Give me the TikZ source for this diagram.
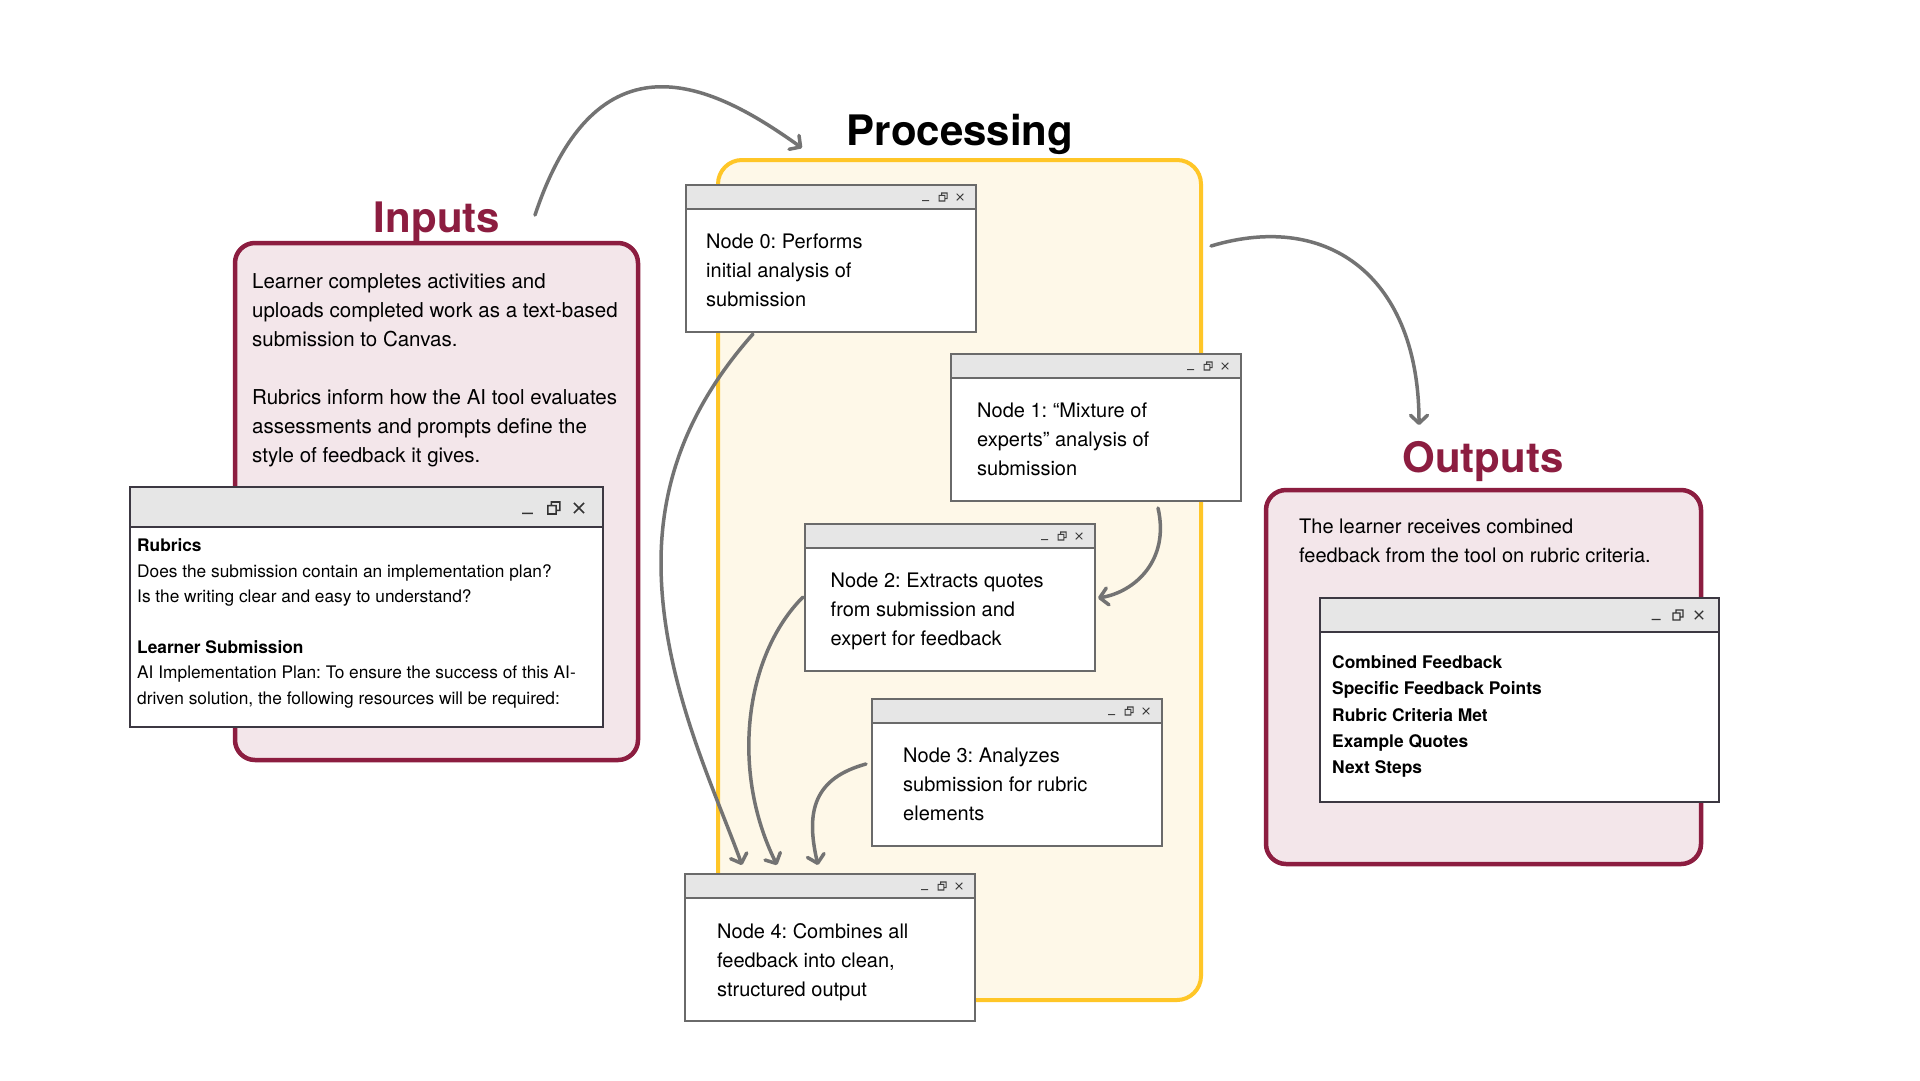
\documentclass[tikz,border=0pt]{standalone}
\usepackage{fontspec}
\setmainfont{TeX Gyre Heros}
\frenchspacing
\usetikzlibrary{arrows.meta,calc}
\definecolor{maroon}{HTML}{8C1D40}
\definecolor{gold}{HTML}{FFC627}
\definecolor{pinkfill}{HTML}{F3E6EA}
\definecolor{creamfill}{HTML}{FEF8E8}
\definecolor{barfill}{HTML}{E6E6E6}
\definecolor{arrowgray}{HTML}{737373}
\definecolor{wline}{HTML}{6A6A6A}
\definecolor{wdark}{HTML}{3C3842}
\tikzset{
  groupbox/.style={draw=maroon, line width=4.5pt, fill=pinkfill, rounded corners=20pt, outer sep=0pt, inner sep=0pt, anchor=north west},
  procbox/.style={draw=gold, line width=4pt, fill=creamfill, rounded corners=24pt, outer sep=0pt, inner sep=0pt, anchor=north west},
  titletext/.style={font=\fontsize{42}{50}\selectfont\bfseries, inner sep=0pt, anchor=base},
  bodytext/.style={font=\fontsize{20.5}{29}\selectfont, align=left, inner sep=0pt, anchor=north west},
  nodetext/.style={font=\fontsize{20}{29}\selectfont, align=left, inner sep=0pt, anchor=north west},
  smalltext/.style={font=\fontsize{17.3}{25.4}\selectfont, align=left, inner sep=0pt, anchor=north west},
  listtext/.style={font=\fontsize{17.4}{26.2}\selectfont\bfseries, align=left, inner sep=0pt, anchor=north west},
  winbox/.style={fill=white, line width=1.6pt, outer sep=0pt, inner sep=0pt, anchor=north west},
  conn/.style={draw=arrowgray, line width=3.5pt, line cap=round, -{Straight Barb[length=8pt,width=17pt,round]}},
}
% window control icons: right edge x, centre y, size
\newcommand\wicons[4]{%
  \draw[draw=#4, line width={#3*0.13pt}]
    ({#1-2*#3-0.42*#3},{#2-0.42*#3}) -- ({#1-2*#3+0.42*#3},{#2+0.42*#3})
    ({#1-2*#3-0.42*#3},{#2+0.42*#3}) -- ({#1-2*#3+0.42*#3},{#2-0.42*#3})
    ({#1-4.1*#3-0.5*#3},{#2-0.2*#3}) rectangle ({#1-4.1*#3+0.2*#3},{#2+0.5*#3})
    ({#1-4.1*#3-0.2*#3},{#2-0.2*#3}) -- ({#1-4.1*#3-0.2*#3},{#2-0.5*#3}) -- ({#1-4.1*#3+0.5*#3},{#2-0.5*#3}) -- ({#1-4.1*#3+0.5*#3},{#2+0.2*#3}) -- ({#1-4.1*#3+0.2*#3},{#2+0.2*#3})
    ({#1-6.3*#3-0.45*#3},{#2+0.45*#3}) -- ({#1-6.3*#3+0.45*#3},{#2+0.45*#3});
}
% processing node window: name, x, y, text x offset, text
\newcommand\nodewin[5]{%
  \node[winbox, draw=wline, minimum width=290pt, minimum height=147pt] (#1) at (#2,#3) {};
  \draw[draw=wline, line width=1.6pt, fill=barfill] (#1.north west) rectangle ($(#1.north east)+(0,24)$);
  \wicons{#2+290}{#3+12}{8}{black!75}
  \node[nodetext] (#1t) at ($(#1.north west)+(#4,49)$) {#5};
}
\begin{document}
\begin{tikzpicture}[x=1pt,y=-1pt]
\useasboundingbox (0,0) rectangle (1920,1080);
\fill[white] (0,0) rectangle (1920,1080);

% ---------------- Inputs ----------------
\node[groupbox, minimum width=403pt, minimum height=517pt] (inbox) at (235,243) {};
\node[titletext, text=maroon] (intitle) at (437,232) {Inputs};
\node[bodytext] (intext) at (252,273) {Learner completes activities and\\uploads completed work as a text-based\\submission to Canvas.\\ \mbox{}\\Rubrics inform how the AI tool evaluates\\assessments and prompts define the\\style of feedback it gives.};

\node[winbox, draw=wdark, minimum width=473pt, minimum height=240pt] (inwin) at (130,487) {};
\draw[draw=wdark, line width=1.6pt, fill=barfill] (inwin.north west) rectangle ($(inwin.north east)+(0,40)$);
\wicons{603}{508}{12}{black!80}
\node[smalltext] (inwintext) at (137,538.5) {{\bfseries Rubrics}\\Does the submission contain an implementation plan?\\Is the writing clear and easy to understand?\\ \mbox{}\\{\bfseries Learner Submission}\\AI Implementation Plan: To ensure the success of this AI-\\driven solution, the following resources will be required:};

% ---------------- Processing ----------------
\node[procbox, minimum width=483pt, minimum height=840pt] (procbox) at (718,160) {};
\node[titletext, text=black] (proctitle) at (960,145) {Processing};

\nodewin{n0}{686}{185}{20}{Node 0: Performs\\initial analysis of\\submission}
\nodewin{n1}{951}{354}{26}{Node 1: “Mixture of\\experts” analysis of\\submission}
\nodewin{n2}{805}{524}{25.5}{Node 2: Extracts quotes\\from submission and\\expert for feedback}
\nodewin{n3}{872}{699}{31}{Node 3: Analyzes\\submission for rubric\\elements}
\nodewin{n4}{685}{874}{32}{Node 4: Combines all\\feedback into clean,\\structured output}

% ---------------- Outputs ----------------
\node[groupbox, minimum width=435pt, minimum height=374pt] (outbox) at (1266,490) {};
\node[titletext, text=maroon] (outtitle) at (1483,472) {Outputs};
\node[nodetext] (outtext) at (1299,518.5) {The learner receives combined\\feedback from the tool on rubric criteria.};

\node[winbox, draw=wdark, minimum width=399pt, minimum height=204pt] (outwin) at (1320,598) {};
\draw[draw=wdark, line width=1.6pt, fill=barfill] (outwin.north west) rectangle ($(outwin.north east)+(0,34)$);
\wicons{1719}{615}{10}{black!80}
\node[listtext] (outlist) at (1332,655.5) {Combined Feedback\\Specific Feedback Points\\Rubric Criteria Met\\Example Quotes\\Next Steps};

% ---------------- Connectors ----------------
\coordinate (a1s) at (535,215);
\coordinate (a1e) at (802,148);
\coordinate (a2s) at (1211,246);
\coordinate (a2e) at (1419,425);
\coordinate (a3s) at (1158,508);
\coordinate (a3e) at (1098,598);
\coordinate (a4s) at (753,334);
\coordinate (a4m) at (661,563);
\coordinate (a4e) at (742,865);
\coordinate (a5s) at (803,597);
\coordinate (a5e) at (777,865);
\coordinate (a6s) at (866,764);
\coordinate (a6e) at (818,865);

\draw[conn] (a1s) .. controls (600,20) and (722,91) .. (a1e);
\draw[conn] (a2s) .. controls (1331,210) and (1419,280) .. (a2e);
\draw[conn] (a3s) .. controls (1170,560) and (1135,592) .. (a3e);
\draw[conn] (a4s) .. controls (690,405) and (661,480) .. (a4m) .. controls (661,680) and (715,790) .. (a4e);
\draw[conn] (a5s) .. controls (745,655) and (730,770) .. (a5e);
\draw[conn] (a6s) .. controls (815,778) and (805,810) .. (a6e);
\end{tikzpicture}
\end{document}
